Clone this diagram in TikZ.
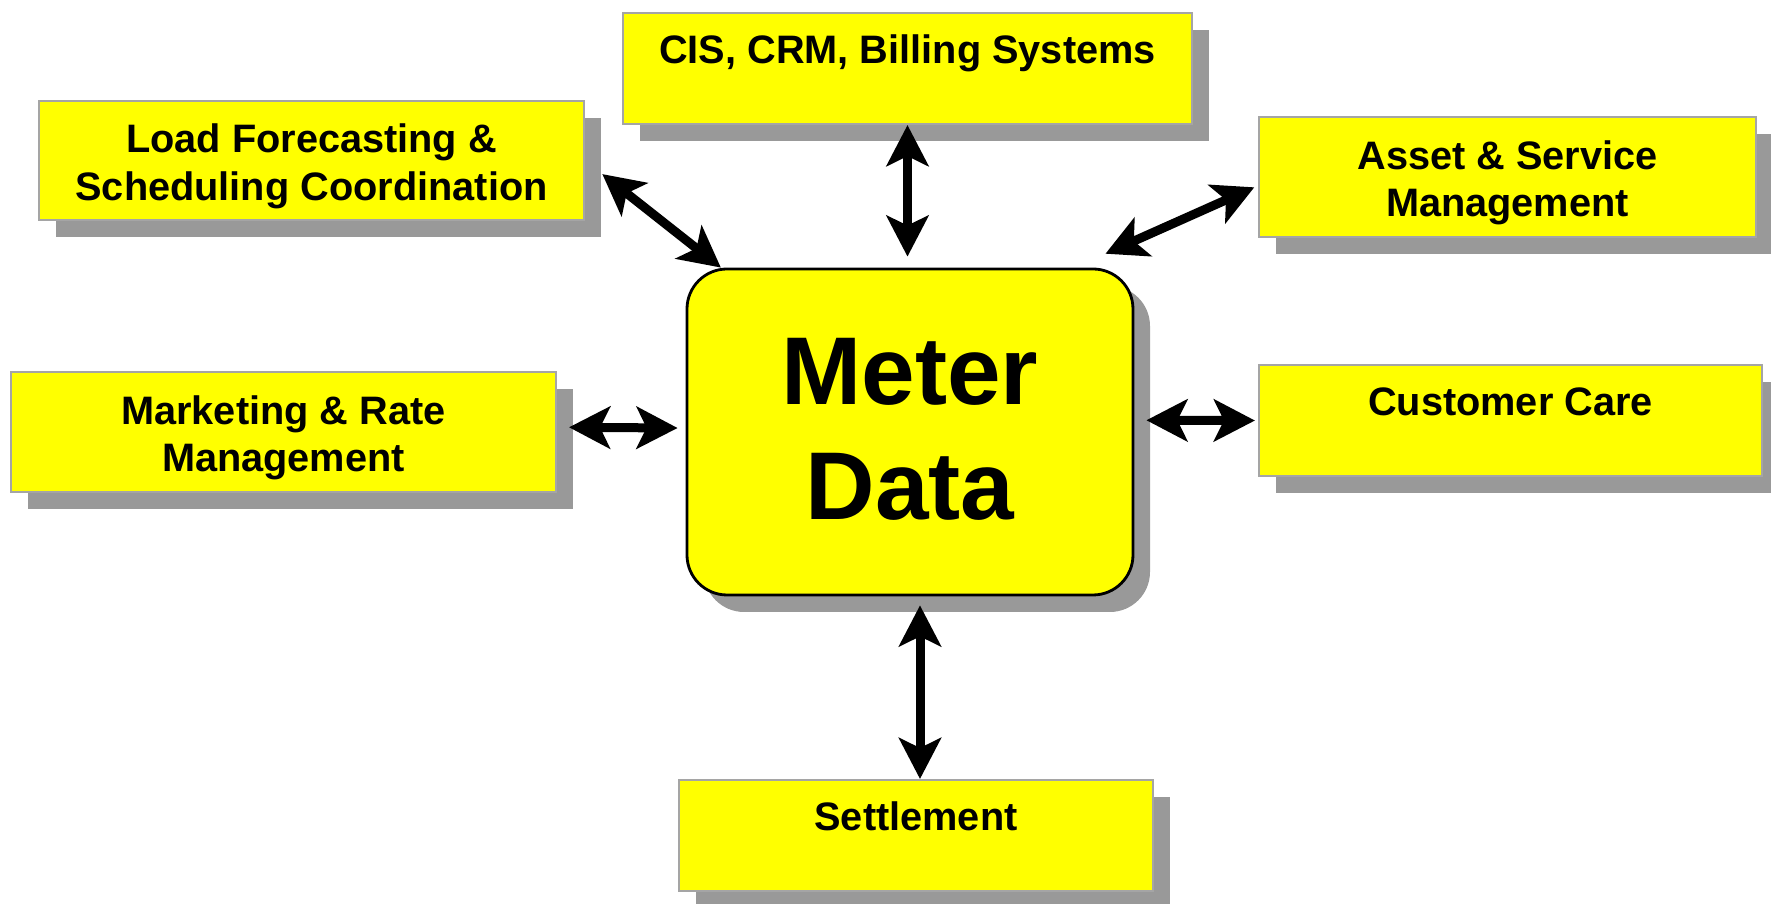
\documentclass[tikz,border=0pt]{standalone}
\usepackage{fontspec}
\setmainfont{Liberation Sans}
\usepackage{xcolor}
\usetikzlibrary{arrows.meta, shadows}
\definecolor{boxyellow}{RGB}{255,255,0}
\definecolor{shadowgray}{RGB}{153,153,153}
\definecolor{edgegray}{RGB}{165,165,165}

\begin{document}
\begin{tikzpicture}[
    box/.style={
        rectangle,
        draw=edgegray,
        line width=0.6pt,
        fill=boxyellow,
        align=center,
        font=\fontsize{11.3}{13.5}\selectfont\bfseries,
        drop shadow={shadow xshift=0.17cm, shadow yshift=-0.17cm, fill=shadowgray, opacity=1}
    },
    twobox/.style={box, text height=0.88cm},
    topbox/.style={box, anchor=north, inner ysep=0pt, text height=0.5cm, text depth=0.61cm},
    hub/.style={
        box,
        draw=black,
        line width=0.8pt,
        rounded corners=0.4cm,
        minimum width=4.46cm,
        minimum height=3.26cm,
        text depth=0.07cm,
        font=\fontsize{27.4}{32.7}\selectfont\bfseries
    },
    link/.style={
        {Stealth[length=0.41cm, width=0.42cm, inset=0.1cm]}-{Stealth[length=0.41cm, width=0.42cm, inset=0.1cm]},
        line width=0.09cm
    }
]
\useasboundingbox (0,0) rectangle (17.71,9.04);

\node[hub] (meter) at (9.10,4.72) {Meter\\Data};

\node[topbox, minimum width=5.69cm] (cis) at (9.075,8.92) {CIS, CRM, Billing Systems};
\node[twobox, minimum width=5.45cm, minimum height=1.17cm] (load) at (3.115,7.435) {Load Forecasting \&\\Scheduling Coordination};
\node[twobox, minimum width=4.97cm, minimum height=1.18cm] (asset) at (15.075,7.27) {Asset \& Service\\Management};
\node[twobox, minimum width=5.45cm, minimum height=1.18cm] (mkt) at (2.835,4.72) {Marketing \& Rate\\Management};
\node[topbox, minimum width=5.03cm] (care) at (15.105,5.40) {Customer Care};
\node[topbox, minimum width=4.74cm] (settle) at (9.16,1.25) {Settlement};

\draw[link, shorten >=0.11cm] (cis.south) -- (cis.south |- meter.north);
\draw[link, shorten <=0.22cm] (load.east) -- (meter.139);
\draw[link, shorten <=0.34cm, shorten >=0.04cm] (meter.45) -- (asset.182);
\draw[link, shorten <=0.12cm, shorten >=0.08cm] (mkt.1) -- (meter.179);
\draw[link, shorten <=0.12cm, shorten >=0.03cm] (meter.3) -- (care.west);
\draw[link, shorten <=0.09cm] ([xshift=0.04cm]settle.north |- meter.south) -- ([xshift=0.04cm]settle.north);

\end{tikzpicture}
\end{document}
